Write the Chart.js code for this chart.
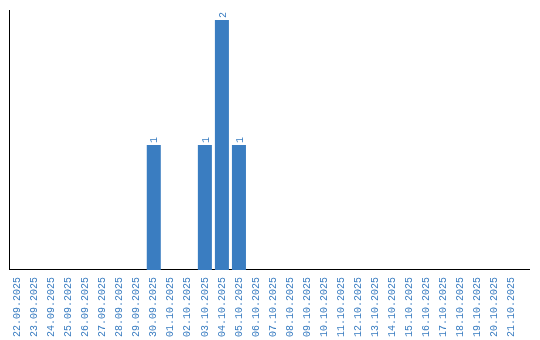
<!DOCTYPE html>
<html>
<head>
<meta charset="utf-8">
<script src="https://cdn.jsdelivr.net/npm/chart.js@4/dist/chart.umd.min.js"></script>
<style>
  html, body { margin: 0; padding: 0; background: #fff; }
  #wrap { width: 540px; height: 340px; }
</style>
</head>
<body>
<div id="wrap"><canvas id="chart" width="540" height="340"></canvas></div>
<script>
const dates = [
    '22.09.2025', '23.09.2025', '24.09.2025', '25.09.2025', '26.09.2025',
    '27.09.2025', '28.09.2025', '29.09.2025', '30.09.2025', '01.10.2025',
    '02.10.2025', '03.10.2025', '04.10.2025', '05.10.2025', '06.10.2025',
    '07.10.2025', '08.10.2025', '09.10.2025', '10.10.2025', '11.10.2025',
    '12.10.2025', '13.10.2025', '14.10.2025', '15.10.2025', '16.10.2025',
    '17.10.2025', '18.10.2025', '19.10.2025', '20.10.2025', '21.10.2025'
];
const counts = [
    0, 0, 0, 0, 0, 0, 0, 0, 1, 0,
    0, 1, 2, 1, 0, 0, 0, 0, 0, 0,
    0, 0, 0, 0, 0, 0, 0, 0, 0, 0
];

const BLUE = '#3a7dc1';
const FONT = '"Liberation Mono", "DejaVu Sans Mono", monospace';

// values written upright above each bar
const barLabels = {
    id: 'barLabels',
    afterDatasetsDraw(chart) {
        const ctx = chart.ctx;
        const meta = chart.getDatasetMeta(0);
        ctx.save();
        ctx.fillStyle = BLUE;
        ctx.font = '10px ' + FONT;
        ctx.textAlign = 'left';
        ctx.textBaseline = 'middle';
        meta.data.forEach((bar, i) => {
            if (!counts[i]) return;
            ctx.save();
            ctx.translate(bar.x + 1, bar.y - 2);
            ctx.rotate(-Math.PI / 2);
            ctx.fillText(String(counts[i]), 0, 0);
            ctx.restore();
        });
        ctx.restore();
    }
};

// x axis line runs on a bit past the last category
const axisTail = {
    id: 'axisTail',
    afterDraw(chart) {
        const { ctx, chartArea } = chart;
        const y = Math.round(chartArea.bottom - 0.5) + 0.5;
        ctx.save();
        ctx.strokeStyle = '#000';
        ctx.lineWidth = 1;
        ctx.beginPath();
        ctx.moveTo(chartArea.right - 1, y);
        ctx.lineTo(530, y);
        ctx.stroke();
        ctx.restore();
    }
};

new Chart(document.getElementById('chart'), {
    type: 'bar',
    data: {
        labels: dates,
        datasets: [{
            data: counts,
            backgroundColor: BLUE,
            categoryPercentage: 1,
            barPercentage: 14 / 17
        }]
    },
    options: {
        responsive: false,
        animation: false,
        layout: { padding: { left: 9, right: 20, top: 10, bottom: -4 } },
        plugins: {
            legend: { display: false },
            tooltip: { enabled: false }
        },
        scales: {
            x: {
                grid: { display: false, drawTicks: false },
                border: { color: '#000', width: 1 },
                ticks: {
                    color: BLUE,
                    font: { family: FONT, size: 10 },
                    minRotation: 90,
                    maxRotation: 90,
                    autoSkip: false,
                    padding: 7
                }
            },
            y: {
                min: 0,
                max: 2.08,
                grid: { display: false, drawTicks: false },
                border: { color: '#000', width: 1 },
                ticks: { display: false }
            }
        }
    },
    plugins: [barLabels, axisTail]
});
</script>
</body>
</html>
